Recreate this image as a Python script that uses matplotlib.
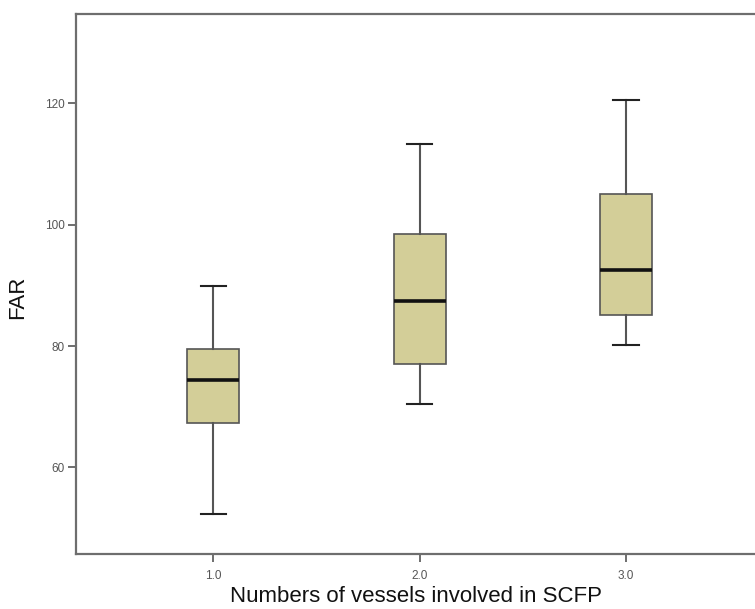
import matplotlib
matplotlib.use("Agg")
import matplotlib.pyplot as plt

# Data
groups = [1.0, 2.0, 3.0]
group_labels = ["1.0", "2.0", "3.0"]
whisker_low = [52.4, 70.5, 80.1]
q1 = [67.3, 77.0, 85.1]
median = [74.4, 87.4, 92.5]
q3 = [79.5, 98.4, 105.1]
whisker_high = [89.9, 113.3, 120.6]
y_ticks = [60, 80, 100, 120]

fig = plt.figure(figsize=(7.55, 6.09), dpi=100)
ax = fig.add_axes([76 / 755, 54.7 / 609, 1 - 76 / 755, (595 - 54.7) / 609])

stats = []
for i in range(len(groups)):
    stats.append(dict(whislo=whisker_low[i], q1=q1[i], med=median[i],
                      q3=q3[i], whishi=whisker_high[i], fliers=[]))

edge = "#555555"
ax.bxp(stats, positions=groups, widths=0.252, capwidths=0.123,
       patch_artist=True, showfliers=False,
       boxprops=dict(facecolor="#D3CE98", edgecolor=edge, linewidth=1.2),
       medianprops=dict(color="#111111", linewidth=2.6),
       whiskerprops=dict(color=edge, linewidth=1.5),
       capprops=dict(color="#222222", linewidth=1.5))

ax.set_xlim(0.335, 3.625)
ax.set_ylim(45.7, 134.7)
ax.set_xticks(groups)
ax.set_xticklabels(group_labels)
ax.set_yticks(y_ticks)
ax.set_yticklabels([str(v) for v in y_ticks])

for s in ["left", "bottom", "top"]:
    ax.spines[s].set_color("#6e6e6e")
    ax.spines[s].set_linewidth(1.6)
ax.spines["right"].set_visible(False)

tick_font = ["Liberation Sans Narrow", "Liberation Sans", "DejaVu Sans"]
ax.tick_params(axis="both", direction="out", length=6, width=1.2,
               color="#555555", labelcolor="#555555", labelsize=8.5, pad=2)
ax.tick_params(axis="x", pad=5)
for lab in ax.get_xticklabels() + ax.get_yticklabels():
    lab.set_family(tick_font)

label_font = ["Liberation Sans", "DejaVu Sans"]
ax.set_xlabel("Numbers of vessels involved in SCFP", fontsize=16,
              family=label_font, color="#111111", labelpad=3)
ax.set_ylabel("FAR", fontsize=16, family=label_font, color="#111111")
ax.yaxis.set_label_coords(-0.070, 0.476)

fig.savefig("out.png", dpi=100)
